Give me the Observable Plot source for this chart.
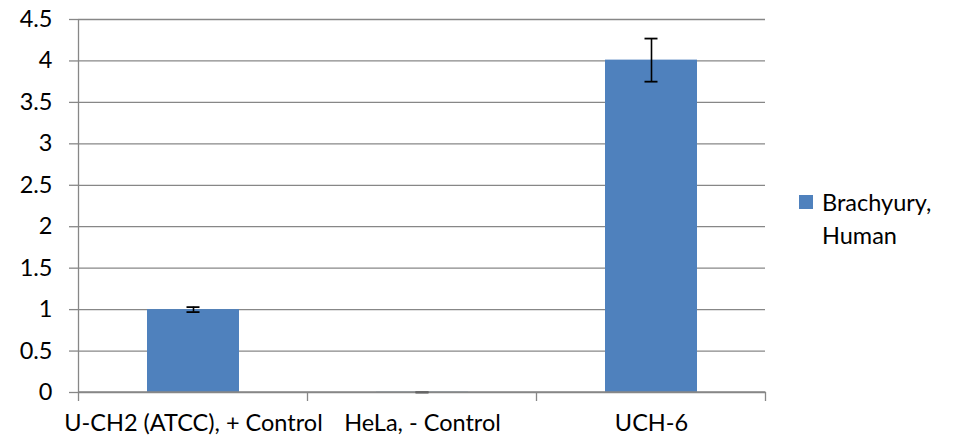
<!DOCTYPE html>
<html><head><meta charset="utf-8">
<script src="https://cdn.jsdelivr.net/npm/d3@7"></script>
<script src="https://cdn.jsdelivr.net/npm/@observablehq/plot@0.6"></script>
<style>
body{margin:0;background:#fff;}
#wrap{position:relative;width:954px;height:441px;font-family:Lato, "Open Sans", sans-serif;}
#legend{position:absolute;left:799px;top:186px;font-size:23.5px;line-height:33px;color:#000;}
#legend .sw{position:absolute;left:0;top:9px;width:14px;height:14px;}
#legend .lab{margin-left:23px;}
</style></head><body><div id="wrap"></div>
<script>
const categories = ["U-CH2 (ATCC), + Control", "HeLa, - Control", "UCH-6"];
const values = [1.0, 0.003, 4.01];
const errors = [0.03, 0.002, 0.26];
const yTicks = [0, 0.5, 1, 1.5, 2, 2.5, 3, 3.5, 4, 4.5];
const seriesLines = ["Brachyury,", "Human"];

const barColor = "#4F81BD";
const gridColor = "#878787";

const data = categories.map((c, i) => ({cat: c, value: values[i], lo: values[i] - errors[i], hi: values[i] + errors[i]}));

const plot = Plot.plot({
  width: 954, height: 441,
  marginLeft: 78, marginRight: 189, marginTop: 19, marginBottom: 49,
  style: {fontFamily: 'Lato, "Open Sans", sans-serif', fontSize: "23.5px", color: "black", background: "white", overflow: "visible"},
  x: {domain: categories, paddingInner: 0.6, paddingOuter: 0.3, label: null},
  y: {domain: [0, 4.5], label: null},
  marks: [
    Plot.gridY(yTicks, {stroke: gridColor, strokeOpacity: 1, strokeWidth: 1.3}),
    Plot.axisY(yTicks, {tickSize: 9, tickPadding: 17, stroke: gridColor, strokeOpacity: 1, strokeWidth: 1.3, fill: "black", tickFormat: d => String(d), label: null}),
    Plot.barY(data, {x: "cat", y: "value", fill: barColor}),
    Plot.ruleX(data, {x: "cat", y1: "lo", y2: "hi", stroke: "black", strokeWidth: 1.6}),
    Plot.tickY(data, {x: "cat", y: "lo", insetLeft: 39.5, insetRight: 39.5, stroke: "black", strokeWidth: 1.8}),
    Plot.tickY(data, {x: "cat", y: "hi", insetLeft: 39.5, insetRight: 39.5, stroke: "black", strokeWidth: 1.8}),
    Plot.axisX({tickSize: 0, tickPadding: 22, label: null, fill: "black"})
  ]
});

// category boundary ticks and left axis line, placed through the plot's own scales
const xs = plot.scale("x"), ys = plot.scale("y");
const gap = (xs.step - xs.bandwidth) / 2;
const bounds = categories.map(c => xs.apply(c) - gap);
bounds.push(xs.apply(categories[categories.length - 1]) + xs.bandwidth + gap);
const y0 = ys.apply(0), yTop = ys.apply(yTicks[yTicks.length - 1]);
const g = d3.select(plot).append("g").attr("stroke", gridColor).attr("stroke-width", 1.3);
g.append("line").attr("x1", bounds[0]).attr("x2", bounds[0]).attr("y1", yTop).attr("y2", y0 + 9);
bounds.slice(1).forEach(b => g.append("line").attr("x1", b).attr("x2", b).attr("y1", y0).attr("y2", y0 + 9));
g.append("line").attr("x1", bounds[0]).attr("x2", bounds[bounds.length - 1]).attr("y1", y0).attr("y2", y0);

const wrap = document.getElementById("wrap");
wrap.appendChild(plot);
const leg = document.createElement("div");
leg.id = "legend";
leg.innerHTML = `<div class="sw" style="background:${barColor}"></div>` + seriesLines.map(s => `<div class="lab">${s}</div>`).join("");
wrap.appendChild(leg);
</script>
</body></html>
